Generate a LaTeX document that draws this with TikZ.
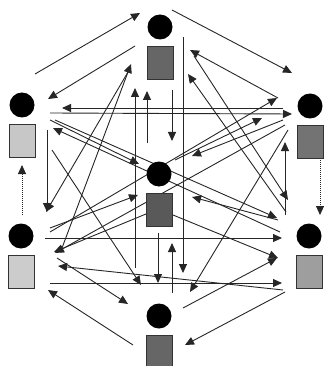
\documentclass[tikz,border=0pt]{standalone}
\usepackage{tikz}
\usetikzlibrary{arrows.meta,calc,positioning,backgrounds}

\begin{document}
\begin{tikzpicture}[x=1pt, y=-1pt,
  agent/.style={circle, fill=black, inner sep=0pt, minimum size=25pt},
  box/.style={draw=black!80, line width=0.6pt, inner sep=0pt, minimum width=26pt, minimum height=33pt},
  arr/.style={-{Triangle[length=9pt,width=8pt]}, line width=0.9pt, black!85},
  dotarr/.style={arr, dash pattern=on 1pt off 1pt}]
  \useasboundingbox (0,0) rectangle (330,366);
  % agents: head and body
  \node[agent] (T)  at (160,27)  {};
  \node[agent] (UL) at (22,105)  {};
  \node[agent] (UR) at (310,106) {};
  \node[agent] (C)  at (159,174) {};
  \node[agent] (LL) at (21,236)  {};
  \node[agent] (LR) at (309,236) {};
  \node[agent] (B)  at (159,316) {};
  \node[box, fill=black!60, below=6pt of T]  (Tb)  {};
  \node[box, fill=black!22, below=6pt of UL] (ULb) {};
  \node[box, fill=black!55, below=6pt of UR] (URb) {};
  \node[box, fill=black!65, below=6pt of C]  (Cb)  {};
  \node[box, fill=black!20, below=6pt of LL] (LLb) {};
  \node[box, fill=black!38, below=6pt of LR] (LRb) {};
  \node[box, fill=black!60, below=6pt of B]  (Bb)  {};
  \begin{scope}[on background layer]
  % outer ring
  \draw[arr] ($(UL)+(13,-31)$) -- ($(T)+(-20,-14)$);
  \draw[arr] ($(T)+(12,-17)$) -- ($(UR)+(-18,-33)$);
  \draw[dotarr] ($(UR)+(10,54)$) -- ($(LR)+(11,-21)$);
  \draw[arr] ($(LR)+(-24,56)$) -- ($(B)+(26,29)$);
  \draw[arr] ($(B)+(-26,29)$) -- ($(LL)+(27,54)$);
  \draw[dotarr] ($(LL)+(1,-21)$) -- ($(UL)+(0,60)$);
  % inner ring
  \draw[arr] ($(T)+(-25,19)$) -- ($(UL)+(26,-6)$);
  \draw[arr] ($(UR)+(-32,-8)$) -- ($(T)+(30,23)$);
  \draw[arr] ($(LR)+(-24,-21)$) -- ($(UR)+(-25,36)$);
  \draw[arr] ($(B)+(24,-8)$) -- ($(LR)+(-32,22)$);
  \draw[arr] ($(LL)+(36,22)$) -- ($(B)+(-31,-12)$);
  \draw[arr] ($(UL)+(25,25)$) -- ($(LL)+(26,-24)$);
  % spokes to the centre
  \draw[arr] ($(C)+(-12,-31)$) -- ($(T)+(-13,64)$);
  \draw[arr] ($(T)+(12,63)$) -- ($(C)+(13,-33)$);
  \draw[arr] ($(C)+(-1,59)$) -- ($(B)+(-1,-33)$);
  \draw[arr] ($(B)+(13,-23)$) -- ($(C)+(13,69)$);
  \draw[arr] ($(UL)+(28,15)$) -- ($(C)+(-20,-10)$);
  \draw[arr] ($(UR)+(-27,14)$) -- ($(C)+(33,-18)$);
  \draw[arr] ($(C)+(16,-14)$) -- ($(UR)+(-48,12)$);
  \draw[arr] ($(C)+(-13,40)$) -- ($(LL)+(33,16)$);
  \draw[arr] ($(LL)+(29,-8)$) -- ($(C)+(-21,21)$);
  \draw[arr] ($(C)+(14,41)$) -- ($(LR)+(-31,22)$);
  \draw[arr] ($(LR)+(-31,-16)$) -- ($(C)+(33,23)$);
  % long links
  \draw[arr] ($(T)+(23,10)$) -- ($(B)+(24,-43)$);
  \draw[arr] ($(B)+(-24,-48)$) -- ($(T)+(-25,61)$);
  \draw[arr] ($(LL)+(41,12)$) -- ($(T)+(-29,37)$);
  \draw[arr] ($(T)+(-32,45)$) -- ($(LL)+(25,-24)$);
  \draw[arr] ($(LR)+(-23,-24)$) -- ($(T)+(28,47)$);
  \draw[arr] ($(T)+(34,29)$) -- ($(LR)+(-21,-36)$);
  \draw[arr] ($(UR)+(-27,2)$) -- ($(UL)+(40,3)$);
  \draw[arr] ($(UL)+(28,8)$) -- ($(UR)+(-18,8)$);
  \draw[arr] ($(LL)+(24,2)$) -- ($(LR)+(-27,2)$);
  \draw[arr] ($(LL)+(29,47)$) -- ($(LR)+(-27,47)$);
  \draw[arr] ($(LR)+(-26,54)$) -- ($(LL)+(37,30)$);
  \draw[arr] ($(UL)+(33,15)$) -- ($(LR)+(-32,-18)$);
  \draw[arr] ($(LR)+(-29,-4)$) -- ($(UL)+(31,23)$);
  \draw[arr] ($(LL)+(29,-4)$) -- ($(UR)+(-33,-8)$);
  \draw[arr] ($(UR)+(-25,19)$) -- ($(LL)+(34,17)$);
  \draw[arr] ($(UL)+(30,45)$) -- ($(B)+(-18,-31)$);
  \draw[arr] ($(UR)+(-22,24)$) -- ($(B)+(31,-24)$);
  \end{scope}
\end{tikzpicture}
\end{document}
